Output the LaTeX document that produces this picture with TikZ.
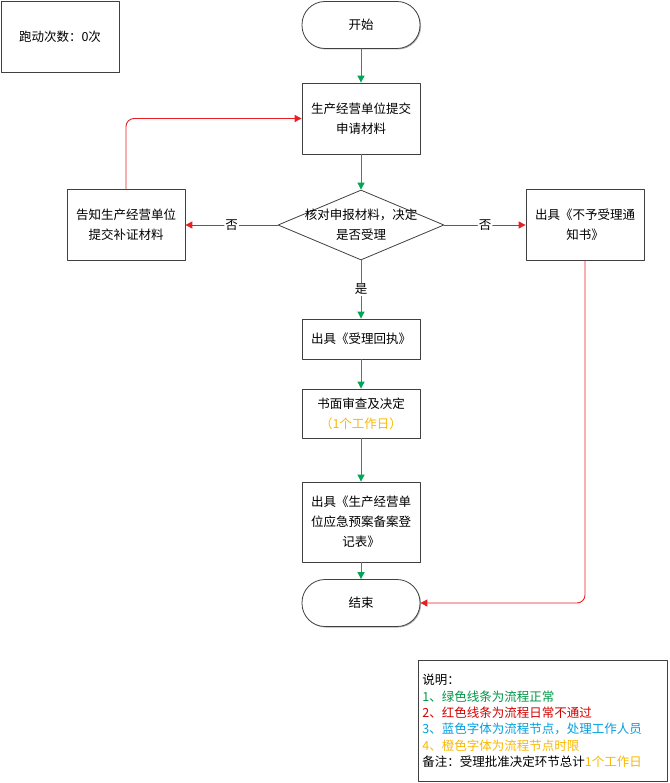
\documentclass[tikz,border=0pt]{standalone}
\usepackage{fontspec}
\setmainfont{Noto Sans CJK SC}
\usetikzlibrary{arrows.meta, shapes.geometric, shadows}
\definecolor{flowgreen}{RGB}{0,166,81}
\definecolor{flowred}{RGB}{232,30,36}
\definecolor{noteblue}{RGB}{0,160,225}
\definecolor{noteorange}{RGB}{250,185,0}
\definecolor{notegreen}{RGB}{0,150,70}
\definecolor{notered}{RGB}{210,0,0}

\begin{document}
\begin{tikzpicture}[x=1pt, y=-1pt, >={Triangle[length=7pt,width=7pt]}, line cap=round, line join=round,
	font=\fontsize{12.5}{20}\selectfont,
	box/.style={draw=black!75, fill=white, line width=0.8pt, minimum width=118pt, align=center, inner sep=2pt,
		drop shadow={shadow xshift=1pt, shadow yshift=-1pt, fill=black!45, opacity=0.7}},
	terminal/.style={box, rounded corners=23pt, minimum height=47pt},
	decision/.style={diamond, draw=black!75, fill=white, line width=0.8pt, minimum width=166pt, minimum height=70pt, inner sep=0pt},
	ok/.style={->, flowgreen, line width=0.9pt},
	fail/.style={->, flowred, line width=0.9pt, rounded corners=8pt},
	lbl/.style={fill=white, text=black, inner sep=1pt}]
	
	\useasboundingbox (0,0) rectangle (669,783);
	
	%========================
	% counter
	%========================
	\node[box, minimum height=71pt] (counter) at (60,36.5) {跑动次数：0次};
	
	%========================
	% main column
	%========================
	\node[terminal] (start) at (361,25) {开始};
	\node[box, minimum height=71pt] (apply) at (361,118.5) {生产经营单位提交\\申请材料};
	\node[decision] (check) at (361,225) {};
	\node[align=center] (checktext) at (check) {核对申报材料，决定\\是否受理};
	\node[box, minimum height=40pt] (receipt) at (361,339) {出具《受理回执》};
	\node[box, minimum height=49pt] (review) at (361,413.5) {书面审查及决定\\{\color{noteorange}（1个工作日）}};
	\node[box, minimum height=80pt] (record) at (361,522) {出具《生产经营单\\位应急预案备案登\\记表》};
	\node[terminal] (finish) at (361,603) {结束};
	
	% side boxes
	\node[box, minimum height=71pt] (notify) at (126,225) {告知生产经营单位\\提交补证材料};
	\node[box, minimum height=71pt] (refuse) at (585,225) {出具《不予受理通\\知书》};
	
	%========================
	% connectors
	%========================
	\draw[ok] (start) -- (apply);
	\draw[ok] (apply) -- (check);
	\draw[ok] (check) -- node[lbl] {是} (receipt);
	\draw[ok] (receipt) -- (review);
	\draw[ok] (review) -- (record);
	\draw[ok] (record) -- (finish);
	
	\draw[fail] (check) -- node[lbl] {否} (notify);
	\draw[fail] (check) -- node[lbl] {否} (refuse);
	\draw[fail] (notify.north) |- (apply.west);
	\draw[fail] (refuse.south) |- (finish.east);
	
	%========================
	% legend
	%========================
	\node[box, anchor=north west, align=left, text width=241pt, inner xsep=4pt, minimum height=121pt,
		font=\fontsize{12.5}{16.3}\selectfont] (legend) at (418,660) {%
		说明：\\
		{\color{notegreen}1、绿色线条为流程正常}\\
		{\color{notered}2、红色线条为流程日常不通过}\\
		{\color{noteblue}3、蓝色字体为流程节点，处理工作人员}\\
		{\color{noteorange}4、橙色字体为流程节点时限}\\
		备注：受理批准决定环节总计{\color{noteorange}1个工作日}};
	
\end{tikzpicture}
\end{document}
